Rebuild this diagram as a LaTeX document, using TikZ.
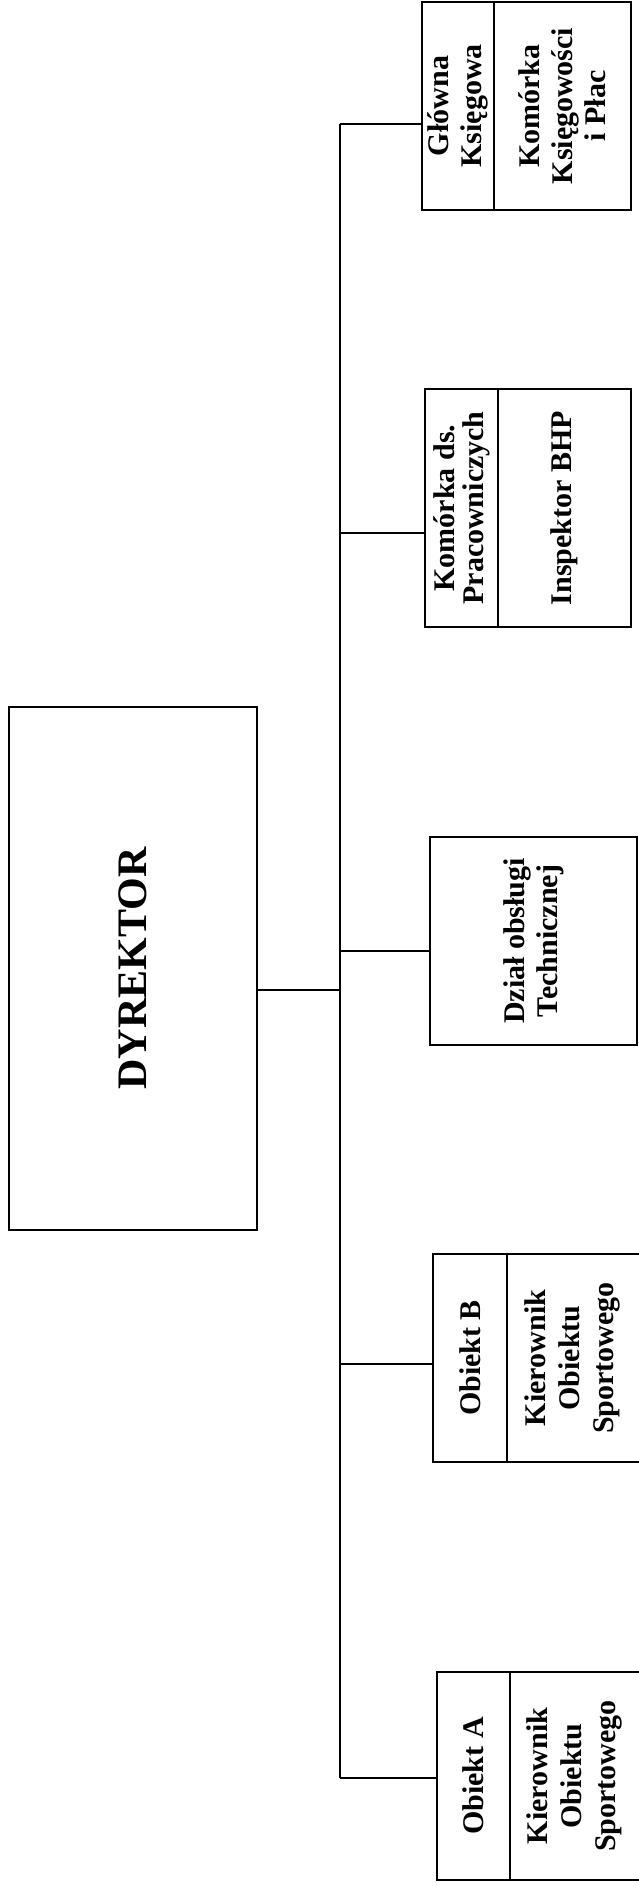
\documentclass[tikz,border=0pt]{standalone}
\usepackage{fontspec}
\setmainfont{Liberation Serif}
\usetikzlibrary{fit}
\begin{document}
\begin{tikzpicture}[x=0.5pt,y=-0.5pt,
  box/.style={draw, line width=1.2pt, inner sep=0pt},
  lbl/.style={rotate=90, align=center, inner sep=0pt,
    font=\fontsize{15}{16.5}\selectfont\bfseries},
  conn/.style={line width=0.9pt}]
\useasboundingbox (0,0) rectangle (638,1886);

% boxes
\node[box, fit={(9,707) (257,1230)}] (dyr) {};
\node[box, fit={(422,2) (494,210)}] (gl1) {};
\node[box, fit={(494,2) (631,210)}] (gl2) {};
\node[box, fit={(425,389) (498,627)}] (ko1) {};
\node[box, fit={(498,389) (631,627)}] (ko2) {};
\node[box, fit={(430,837) (637,1045)}] (dz) {};
\node[box, fit={(433,1254) (507,1462)}] (ob1) {};
\node[box, fit={(507,1254) (642,1462)}] (ob2) {};
\node[box, fit={(437,1672) (510,1880)}] (oa1) {};
\node[box, fit={(510,1672) (642,1880)}] (oa2) {};

% labels
\node[lbl, font=\fontsize{21}{25}\selectfont\bfseries] (dyrt) at (dyr.center) {DYREKTOR};
\node[lbl] (gl1t) at (gl1.center) {Główna\\Księgowa};
\node[lbl] (gl2t) at (gl2.center) {Komórka\\Księgowości\\i Płac};
\node[lbl, font=\fontsize{15}{14.5}\selectfont\bfseries] (ko1t) at (ko1.center) {Komórka ds.\\Pracowniczych};
\node[lbl] (ko2t) at (ko2.center) {Inspektor BHP};
\node[lbl] (dzt) at (dz.center) {Dział obsługi\\Technicznej};
\node[lbl] (ob1t) at (ob1.center) {Obiekt B};
\node[lbl, font=\fontsize{15}{17}\selectfont\bfseries] (ob2t) at ([xshift=-1pt]ob2.center) {Kierownik\\Obiektu\\Sportowego};
\node[lbl] (oa1t) at (oa1.center) {Obiekt A};
\node[lbl, font=\fontsize{15}{17}\selectfont\bfseries] (oa2t) at ([xshift=-1pt]oa2.center) {Kierownik\\Obiektu\\Sportowego};

% connectors
\coordinate (s0) at (340,990);
\coordinate (s1) at (340,124);
\coordinate (s2) at (340,533);
\coordinate (s3) at (340,951);
\coordinate (s4) at (340,1364);
\coordinate (s5) at (340,1778);
\draw[conn] (dyr.east |- s0) -- (s0);
\draw[conn] (s1) -- (s5);
\draw[conn] (s1) -- (gl1.west |- s1);
\draw[conn] (s2) -- (ko1.west |- s2);
\draw[conn] (s3) -- (dz.west |- s3);
\draw[conn] (s4) -- (ob1.west |- s4);
\draw[conn] (s5) -- (oa1.west |- s5);
\end{tikzpicture}
\end{document}
